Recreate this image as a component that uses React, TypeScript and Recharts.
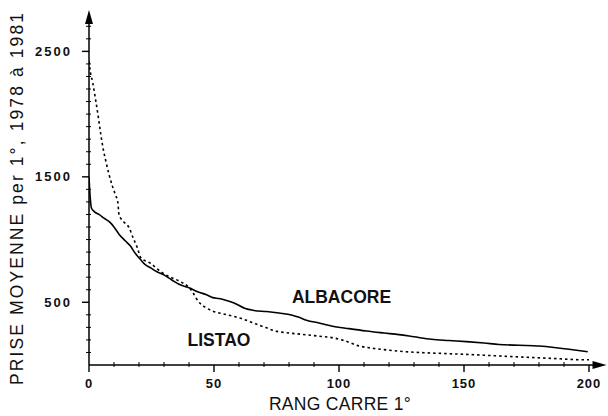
import React from "react";
import {
  ComposedChart,
  Line,
  XAxis,
  YAxis,
  ReferenceDot,
  Customized,
} from "recharts";

// Rank of the 1° square (x) and mean catch per square, 1978–1981 (y)
const albacoreRank = [
  0, 0.5, 1, 2, 4, 6, 8.5, 10, 12, 14.5, 16.5, 18.5, 20.5, 22.5, 24.5, 27, 29.5,
  33, 36, 40, 44, 47, 49.5, 52, 55, 58, 62.5, 66, 71, 76, 81, 84, 87, 92, 97,
  104, 111, 118, 124, 130, 137, 144, 151, 158, 164, 172, 180, 186, 192, 199.5,
];
const albacoreCatch = [
  1500, 1330, 1250, 1225, 1200, 1170, 1135, 1100, 1043, 990, 950, 890, 843, 800,
  776, 745, 723, 680, 643, 615, 580, 560, 537, 530, 515, 495, 450, 435, 426, 414,
  399, 380, 357, 335, 311, 290, 271, 255, 242, 225, 205, 195, 186, 175, 164, 157,
  151, 140, 125, 106,
];

const listaoRank = [
  0, 0.5, 1.5, 2.7, 3.7, 4.7, 5.7, 6.7, 8, 9.3, 10.5, 11.5, 12, 13, 14.5, 16,
  17.5, 19.3, 20.7, 22.5, 24.7, 27, 29.3, 32, 36, 40, 41.5, 42.7, 44.5, 46.7,
  49.3, 53, 57.3, 61, 65.3, 70.7, 74.7, 78.7, 85, 92, 97.3, 102, 108, 114, 120,
  124, 134, 144, 154, 164, 175, 186, 197.3, 200,
];
const listaoCatch = [
  2420, 2340, 2250, 2107, 1980, 1841, 1720, 1628, 1520, 1430, 1360, 1300, 1200,
  1160, 1130, 1096, 1020, 936, 856, 830, 810, 770, 736, 705, 670, 617, 580, 537,
  490, 458, 431, 410, 391, 370, 338, 298, 270, 258, 245, 230, 218, 195, 152, 132,
  118, 110, 98, 90, 82, 72, 62, 52, 42, 42,
];

const xTicks = Array.from({ length: 21 }, (_, i) => i * 10);
const xLabelled = [0, 50, 100, 150, 200];
const yTicks = Array.from({ length: 28 }, (_, i) => i * 100);
const yLabelled = [500, 1500, 2500];

const X_MAX = 205;
const Y_MAX = 2790;

const albacoreData = albacoreRank.map((r, i) => ({ rank: r, v: albacoreCatch[i] }));
const listaoData = listaoRank.map((r, i) => ({ rank: r, v: listaoCatch[i] }));

const FONT = "'Liberation Sans', Arial, Helvetica, sans-serif";

const XTick = (props: any) => {
  const { x, y, payload } = props;
  const major = xLabelled.includes(payload.value);
  return (
    <g>
      {major ? (
        <line x1={x} x2={x} y1={y} y2={y + 7} stroke="#000" strokeWidth={1.4} />
      ) : (
        <line x1={x} x2={x} y1={y - 3} y2={y + 2} stroke="#000" strokeWidth={1} />
      )}
      {major && (
        <text
          x={x}
          y={y + 23}
          textAnchor="middle"
          fontFamily={FONT}
          fontSize={13}
          fontWeight={600}
          letterSpacing={1}
          fill="#111"
        >
          {payload.value}
        </text>
      )}
    </g>
  );
};

const YTick = (props: any) => {
  const { x, y, payload } = props;
  const major = yLabelled.includes(payload.value);
  if (payload.value === 0) return <g />;
  return (
    <g>
      {major ? (
        <line x1={x - 7} x2={x} y1={y} y2={y} stroke="#000" strokeWidth={1.4} />
      ) : (
        <line x1={x - 3} x2={x + 2} y1={y} y2={y} stroke="#000" strokeWidth={1} />
      )}
      {major && (
        <text
          x={x - 17}
          y={y}
          dy={4.5}
          textAnchor="end"
          fontFamily={FONT}
          fontSize={13}
          fontWeight={600}
          letterSpacing={2}
          fill="#111"
        >
          {payload.value}
        </text>
      )}
    </g>
  );
};

const ArrowUp = (props: any) => {
  const { cx, cy } = props;
  return (
    <polygon
      points={`${cx},${cy - 5} ${cx - 4},${cy + 9} ${cx + 4},${cy + 9}`}
      fill="#000"
    />
  );
};

const ArrowRight = (props: any) => {
  const { cx, cy } = props;
  return (
    <polygon
      points={`${cx + 5},${cy} ${cx - 9},${cy - 4} ${cx - 9},${cy + 4}`}
      fill="#000"
    />
  );
};

const SeriesName = (text: string) => (props: any) => {
  const { cx, cy } = props;
  return (
    <text
      x={cx}
      y={cy}
      dy={6}
      textAnchor="middle"
      fontFamily={FONT}
      fontSize={17.5}
      fontWeight={700}
      fill="#111"
    >
      {text}
    </text>
  );
};

const AxisTitles = () => (
  <g>
    <text
      x={340}
      y={410}
      textAnchor="middle"
      fontFamily={FONT}
      fontSize={17.5}
      letterSpacing={0.3}
      fill="#111"
    >
      RANG CARRE 1°
    </text>
    <text
      x={23}
      y={199}
      transform="rotate(-90 23 199)"
      textAnchor="middle"
      fontFamily={FONT}
      fontSize={17.5}
      textLength={372}
      lengthAdjust="spacing"
      fill="#111"
    >
      PRISE MOYENNE  per 1°,  1978 à 1981
    </text>
  </g>
);

export default function App() {
  return (
    <div style={{ position: "absolute", left: 0, top: 0, background: "#fff" }}>
      <ComposedChart
        width={608}
        height={416}
        margin={{ top: 15, right: 6.5, bottom: 0, left: 0 }}
      >
        <XAxis
          type="number"
          dataKey="rank"
          domain={[0, X_MAX]}
          ticks={xTicks}
          interval={0}
          height={51}
          tickSize={0}
          tickMargin={0}
          tickLine={false}
          axisLine={{ stroke: "#000", strokeWidth: 1.5 }}
          tick={<XTick />}
          allowDataOverflow
        />
        <YAxis
          type="number"
          dataKey="v"
          domain={[0, Y_MAX]}
          ticks={yTicks}
          interval={0}
          width={89}
          tickSize={0}
          tickMargin={0}
          tickLine={false}
          axisLine={{ stroke: "#000", strokeWidth: 1.5 }}
          tick={<YTick />}
          allowDataOverflow
        />
        <Line
          data={albacoreData}
          dataKey="v"
          type="monotone"
          stroke="#000"
          strokeWidth={1.6}
          dot={false}
          isAnimationActive={false}
        />
        <Line
          data={listaoData}
          dataKey="v"
          type="monotone"
          stroke="#000"
          strokeWidth={1.6}
          strokeDasharray="2.5 3"
          dot={false}
          isAnimationActive={false}
        />
        <ReferenceDot x={0} y={Y_MAX} r={0} shape={<ArrowUp />} ifOverflow="visible" />
        <ReferenceDot x={X_MAX} y={0} r={0} shape={<ArrowRight />} ifOverflow="visible" />
        <ReferenceDot x={101} y={542} r={0} shape={SeriesName("ALBACORE")} ifOverflow="visible" />
        <ReferenceDot x={52} y={199} r={0} shape={SeriesName("LISTAO")} ifOverflow="visible" />
        <Customized component={AxisTitles} />
      </ComposedChart>
    </div>
  );
}
